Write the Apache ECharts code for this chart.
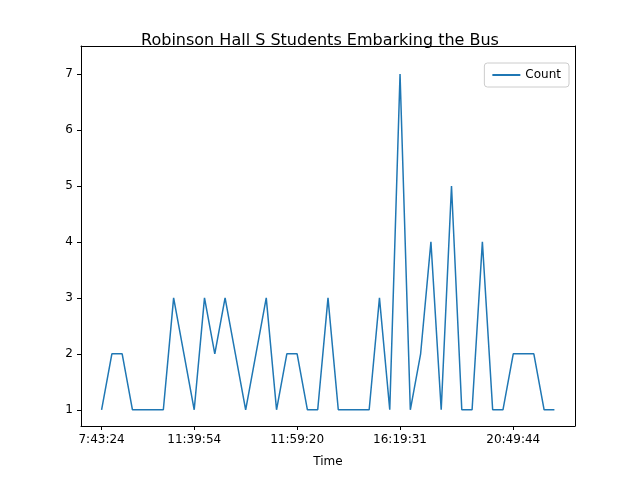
<!DOCTYPE html>
<html><head><meta charset="utf-8">
<script src="https://cdn.jsdelivr.net/npm/echarts@6/dist/echarts.min.js"></script>
<style>html,body{margin:0;padding:0;background:#fff}#c{width:640px;height:480px}</style>
</head><body><div id="c"></div>
<script>
const counts = [1,2,2,1,1,1,1,3,2,1,3,2,3,2,1,2,3,1,2,2,1,1,3,1,1,1,1,3,1,7,1,2,4,1,5,1,1,4,1,1,2,2,2,1,1];
const tickIndex = [0,9,19,29,40];
const tickLabels = ['7:43:24','11:39:54','11:59:20','16:19:31','20:49:44'];
const yTicks = [1,2,3,4,5,6,7];
const pad = 2;
const nCat = counts.length + pad + 2;
const cats = [];
for (let i = 0; i < nCat; i++) {
  const k = tickIndex.indexOf(i - pad);
  cats.push(k >= 0 ? tickLabels[k] : '');
}
const isTick = (i) => tickIndex.indexOf(i - pad) >= 0;
const chart = echarts.init(document.getElementById('c'));
const font = 'DejaVu Sans';
chart.setOption({
  animation:false,
  textStyle:{fontFamily:font},
  title:{text:'Robinson Hall S Students Embarking the Bus',left:'center',top:33,padding:0,textStyle:{fontFamily:font,fontSize:16,fontWeight:'normal',color:'#000'}},
  grid:{left:81,right:65,top:46,bottom:54},
  legend:{right:71,top:63,orient:'vertical',itemWidth:28,itemHeight:2,icon:'rect',
    textStyle:{fontFamily:font,fontSize:12,color:'#000'},
    borderColor:'#ccc',borderWidth:1,borderRadius:3,padding:[6,8,6,8],data:['Count']},
  xAxis:[{type:'category',data:cats,boundaryGap:false,name:'Time',nameLocation:'middle',nameGap:30,
    nameTextStyle:{fontFamily:font,fontSize:12,color:'#000'},
    axisLine:{lineStyle:{color:'#000'}},
    axisTick:{alignWithLabel:true,interval:(i)=>isTick(i),length:4,lineStyle:{color:'#000'}},
    axisLabel:{interval:(i)=>isTick(i),color:'#000',fontFamily:font,fontSize:12,margin:8},
    splitLine:{show:false}},
    {type:'category',data:cats,boundaryGap:false,position:'top',
    axisLine:{show:true,lineStyle:{color:'#000'}},axisTick:{show:false},axisLabel:{show:false},splitLine:{show:false}}],
  yAxis:[{type:'value',min:0.71,max:7.5,
    axisLine:{show:true,lineStyle:{color:'#000'}},
    axisTick:{show:true,length:4,lineStyle:{color:'#000'},customValues:yTicks},
    axisLabel:{color:'#000',fontFamily:font,fontSize:12,customValues:yTicks},
    splitLine:{show:false}},
    {type:'value',min:0.71,max:7.5,position:'right',
    axisLine:{show:true,lineStyle:{color:'#000'}},axisTick:{show:false},axisLabel:{show:false},splitLine:{show:false}}],
  series:[{name:'Count',type:'line',symbol:'none',
    lineStyle:{color:'#1f77b4',width:1.5},itemStyle:{color:'#1f77b4'},
    data:counts.map((v,i)=>[i+pad,v])}]
});
</script></body></html>
